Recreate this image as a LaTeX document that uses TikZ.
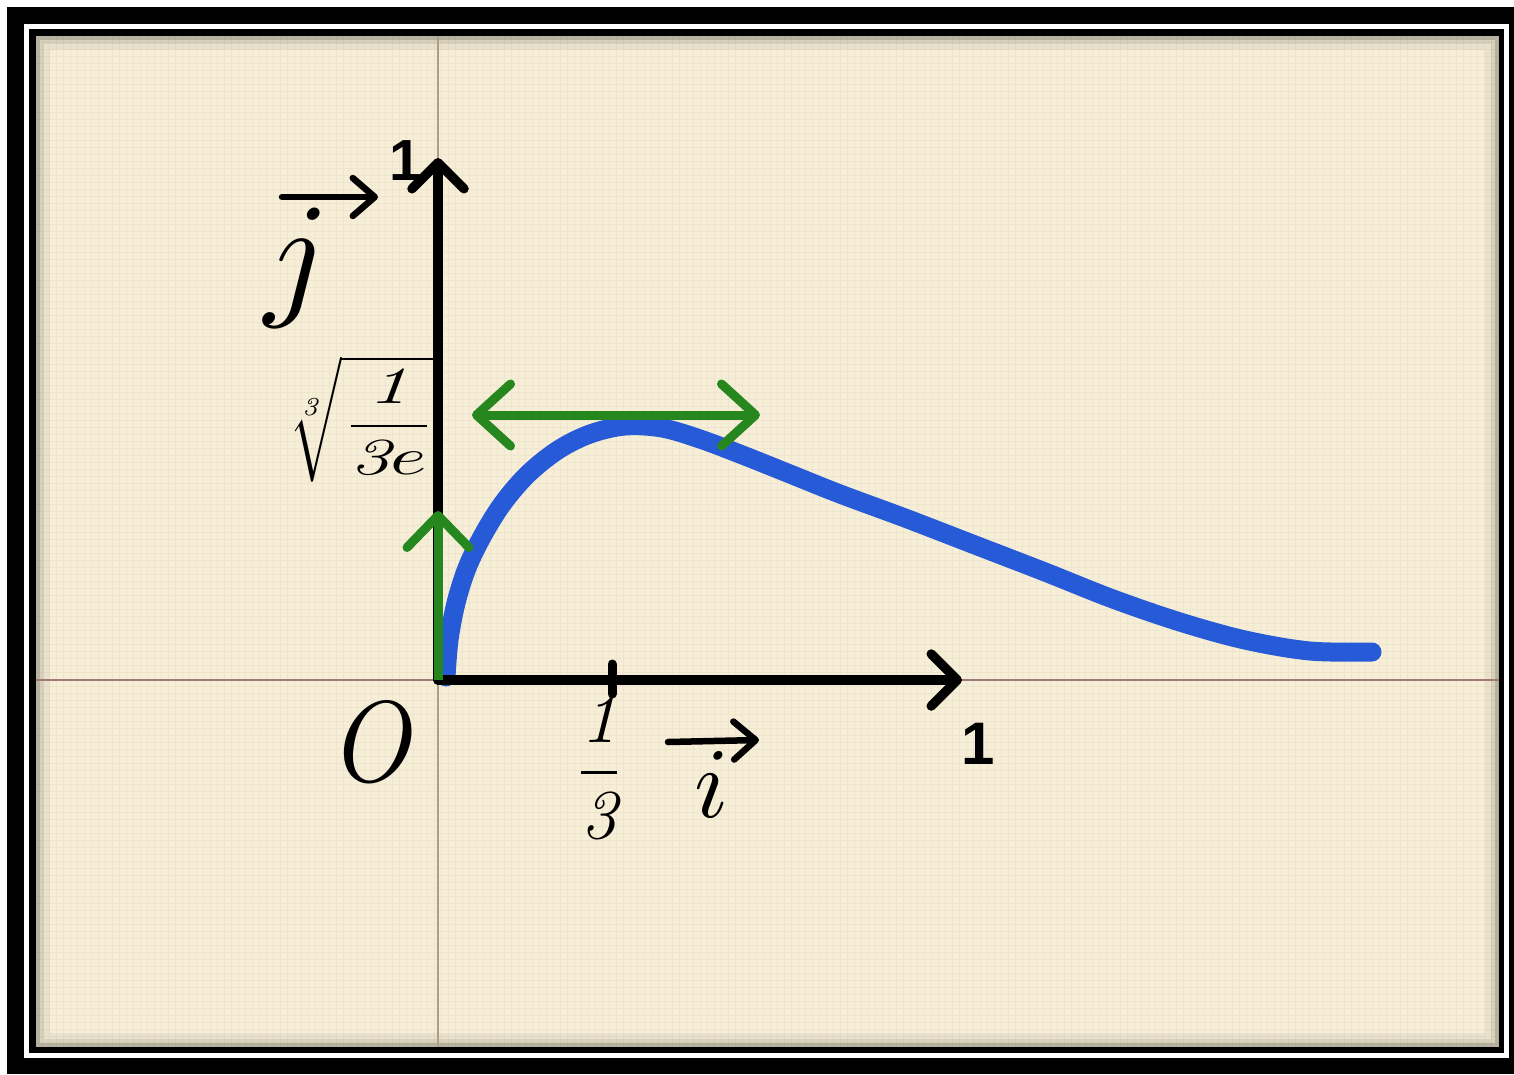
\documentclass[tikz,border=0pt]{standalone}
\usepackage{fontspec}
\usepackage{amsmath}
\usepackage{graphicx}
\newfontfamily\lsans{Liberation Sans}
\usetikzlibrary{arrows.meta}
\definecolor{paper}{RGB}{246,238,214}
\definecolor{curveblue}{RGB}{38,90,214}
\definecolor{tangreen}{RGB}{38,135,30}
\definecolor{axisbrown}{RGB}{160,120,118}
\definecolor{axisgrey}{RGB}{170,158,135}
\tikzset{
  axisline/.style={line width=9.5pt, line cap=round, -{Straight Barb[length=26pt,width=52pt,round]}},
  tangentline/.style={tangreen, line width=9pt},
  vecline/.style={line width=6.5pt, line cap=round, -{Straight Barb[length=22pt,width=38pt,round]}},
  curvestyle/.style={curveblue, line width=19pt, line cap=round, line join=round},
  lab/.style={inner sep=0pt, text=black},
}
\begin{document}
\begin{tikzpicture}[x=1pt,y=-1pt]
\useasboundingbox (0,0) rectangle (1514,1074);
% frame
\fill[white] (0,0) rectangle (1514,1074);
\fill[black] (7,7) rectangle (1514,1074);
\fill[white] (24,24) rectangle (1509,1058);
\fill[black] (29,29) rectangle (1504,1053);
\fill[paper] (36,36) rectangle (1499,1047);
% linen texture
\draw[black, opacity=0.035, line width=1pt] (36,36) grid[step=7pt] (1499,1047);
% inner shadow
\draw[black, opacity=0.25, line width=4pt] (38,38) rectangle (1497,1045);
\draw[black, opacity=0.12, line width=4pt] (42,42) rectangle (1493,1041);
\draw[black, opacity=0.05, line width=6pt] (47,47) rectangle (1488,1036);
% faint full-width axis lines
\coordinate (leftE) at (36,680);
\coordinate (rightE) at (1499,680);
\coordinate (topE) at (438,36);
\coordinate (botE) at (438,1047);
\draw[axisbrown, line width=2.5pt] (leftE) -- (rightE);
\draw[axisgrey, line width=2.5pt] (topE) -- (botE);
% points
\coordinate (O) at (438,680);
\coordinate (xend) at (962,680);
\coordinate (yend) at (438,158);
% curve
\draw[curvestyle] plot[smooth, tension=0.55] coordinates {
 (446,677) (449,640) (456,603) (467,568) (483,535) (503,503) (528,474)
 (558,450) (590,434) (625,426) (662,428) (700,439) (745,456) (790,474)
 (840,494) (905,518) (975,545) (1045,572) (1113,599) (1180,622)
 (1245,640) (1310,651) (1372,652)};
% axes
\draw[axisline] (O) -- (xend);
\draw[axisline] (O) -- (yend);
% tick at 1/3
\coordinate (t1) at (612,664);
\coordinate (t2) at (612,694);
\draw[line width=9pt, line cap=round] (t1) -- (t2);
% tangents
\coordinate (tl) at (472,415);
\coordinate (tr) at (760,415);
\draw[tangentline, {Straight Barb[length=34pt,width=62pt,round]}-{Straight Barb[length=34pt,width=62pt,round]}] (tl) -- (tr);
\coordinate (vt) at (438,511);
\draw[tangentline, -{Straight Barb[length=32pt,width=62pt,round]}] (O) -- (vt);
% labels
\node[lab] (oney) at (406,161) {\fontsize{58}{58}\selectfont\lsans\bfseries 1};
\node[lab] (onex) at (978,744) {\fontsize{60}{60}\selectfont\lsans\bfseries 1};
\node[lab] (Olab) at (378,742) {\scalebox{9.8}[11.5]{$O$}};
\node[lab] (third) at (599,768) {\scalebox{7}{$\dfrac{\mathit{1}}{\mathit{3}}$}};
\node[lab] (root) at (362,419) {\scalebox{5.2}{$\sqrt[\mathit{3}]{\mbox{\scalebox{1.5}[1]{$\displaystyle\frac{\mathit{1}}{\mathit{3}e}$}}}$}};
\node[lab] (ilab) at (712,785) {\scalebox{10}{$i$}};
\node[lab] (jlab) at (297,268) {\scalebox{14}{$j$}};
% vector arrows of the labels
\coordinate (ia) at (668,742);
\coordinate (ib) at (759,740);
\draw[vecline] (ia) -- (ib);
\coordinate (ja) at (282,197);
\coordinate (jb) at (378,197);
\draw[vecline] (ja) -- (jb);
\end{tikzpicture}
\end{document}
